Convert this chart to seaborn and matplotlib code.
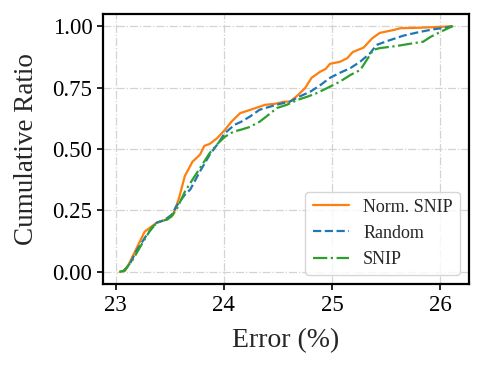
import pandas as pd
import matplotlib
matplotlib.use("Agg")
import matplotlib.pyplot as plt
import seaborn as sns

# -----------------------------
# Data (error %, cumulative ratio)
# -----------------------------
norm_snip_x = [23.04, 23.09, 23.13, 23.18, 23.27, 23.38, 23.45, 23.52, 23.55, 23.59,
               23.64, 23.71, 23.78, 23.82, 23.87, 23.94, 24.01, 24.07, 24.15, 24.24,
               24.38, 24.47, 24.56, 24.61, 24.67, 24.75, 24.81, 24.89, 24.94, 24.98,
               25.07, 25.14, 25.19, 25.29, 25.37, 25.44, 25.57, 25.63, 25.81, 25.97, 26.11]
norm_snip_y = [0.0, 0.005, 0.038, 0.083, 0.164, 0.20, 0.21, 0.225, 0.253, 0.306,
               0.39, 0.448, 0.477, 0.513, 0.521, 0.545, 0.578, 0.611, 0.646, 0.659,
               0.680, 0.684, 0.693, 0.693, 0.714, 0.748, 0.79, 0.815, 0.826, 0.847,
               0.855, 0.870, 0.895, 0.913, 0.951, 0.973, 0.985, 0.992, 0.994, 0.997, 1.0]

random_x = [23.065, 23.13, 23.19, 23.29, 23.38, 23.45, 23.52, 23.56, 23.64, 23.69,
            23.78, 23.87, 23.95, 24.01, 24.10, 24.16, 24.24, 24.33, 24.43, 24.52,
            24.61, 24.70, 24.80, 24.89, 24.98, 25.07, 25.17, 25.26, 25.35, 25.41,
            25.51, 25.66, 25.81, 25.94, 26.03, 26.11]
random_y = [0.0, 0.03, 0.083, 0.152, 0.20, 0.21, 0.233, 0.266, 0.314, 0.335,
            0.409, 0.477, 0.525, 0.565, 0.599, 0.611, 0.632, 0.66, 0.673, 0.684,
            0.693, 0.714, 0.734, 0.76, 0.79, 0.81, 0.83, 0.856, 0.89, 0.924,
            0.94, 0.962, 0.977, 0.988, 0.993, 1.0]

snip_x = [23.037, 23.083, 23.16, 23.25, 23.34, 23.41, 23.48, 23.53, 23.57, 23.64,
          23.71, 23.79, 23.87, 23.95, 24.01, 24.09, 24.16, 24.24, 24.33, 24.40,
          24.49, 24.58, 24.68, 24.77, 24.86, 24.98, 25.07, 25.17, 25.26, 25.32,
          25.38, 25.44, 25.60, 25.75, 25.84, 25.91, 26.0, 26.11]
snip_y = [0.0, 0.005, 0.05, 0.118, 0.184, 0.205, 0.213, 0.233, 0.26, 0.326,
          0.375, 0.429, 0.484, 0.525, 0.55, 0.571, 0.579, 0.59, 0.611, 0.635,
          0.667, 0.68, 0.70, 0.713, 0.728, 0.754, 0.774, 0.802, 0.822, 0.863,
          0.904, 0.911, 0.920, 0.931, 0.937, 0.957, 0.977, 1.0]

series = [
    ("Norm. SNIP", norm_snip_x, norm_snip_y, "tab:orange", "-"),
    ("Random", random_x, random_y, "tab:blue", "--"),
    ("SNIP", snip_x, snip_y, "tab:green", "-."),
]

# -----------------------------
# Style
# -----------------------------
sns.set_style("ticks")
plt.rcParams["font.family"] = ["Liberation Serif", "DejaVu Serif"]

fig = plt.figure(figsize=(4.83, 3.68), dpi=100)
ax = fig.add_axes([0.213, 0.228, 0.758, 0.734])

for name, xs, ys, color, ls in series:
    df = pd.DataFrame({"x": xs, "y": ys})
    sns.lineplot(data=df, x="x", y="y", ax=ax, color=color, linestyle=ls,
                 linewidth=1.6, label=name, sort=False, estimator=None)

ax.grid(True, linestyle="-.", color="#d3d3d3", linewidth=0.9)
ax.set_axisbelow(True)
ax.set_xticks([23, 24, 25, 26])
ax.set_yticks([0.0, 0.25, 0.5, 0.75, 1.0])
ax.set_yticklabels(["0.00", "0.25", "0.50", "0.75", "1.00"])
ax.tick_params(labelsize=16.5, width=1.2, length=4, colors="black")
for sp in ax.spines.values():
    sp.set_linewidth(1.6)
    sp.set_color("black")

ax.set_xlabel("Error (%)", fontsize=20, labelpad=9)
ax.set_ylabel("Cumulative Ratio", fontsize=19.5, labelpad=10)

ax.legend(loc="lower right", fontsize=13, frameon=True, fancybox=True,
          framealpha=0.8, edgecolor="#cccccc", handlelength=2.0)

fig.savefig("out.png", dpi=100)
